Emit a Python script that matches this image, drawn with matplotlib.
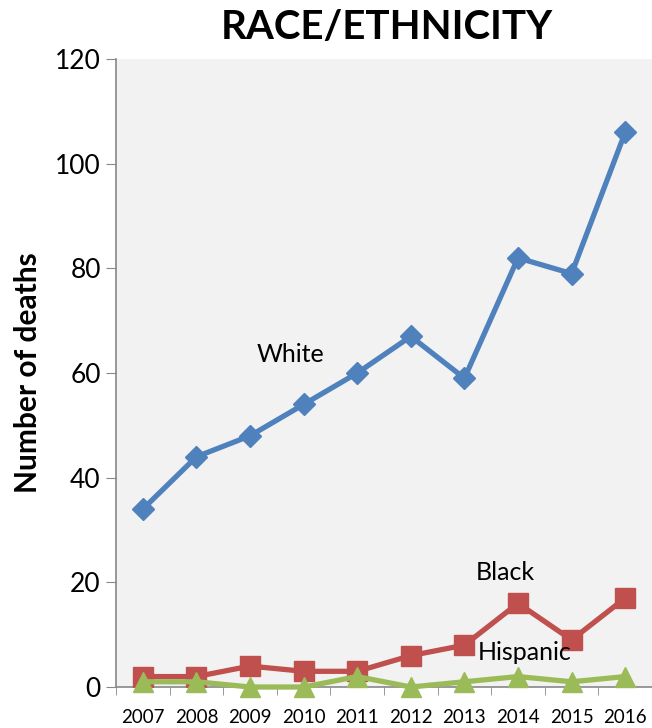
import matplotlib
matplotlib.use('Agg')
import matplotlib.pyplot as plt
from matplotlib.ticker import FixedLocator

years = ['2007', '2008', '2009', '2010', '2011', '2012', '2013', '2014', '2015', '2016']
white = [34, 44, 48, 54, 60, 67, 59, 82, 79, 106]
black = [2, 2, 4, 3, 3, 6, 8, 16, 9, 17]
hispanic = [1, 1, 0, 0, 2, 0, 1, 2, 1, 2]

plt.rcParams['font.family'] = ['Lato', 'DejaVu Sans']

fig = plt.figure(figsize=(6.52, 7.28), dpi=100)
ax = fig.add_axes([0.178, 0.0563, 0.822, 0.8626])
ax.set_facecolor('#F2F2F2')

x = list(range(len(years)))
ax.plot(x, white, color='#4F81BD', lw=3.8, marker='D', ms=11, zorder=3)
ax.plot(x, black, color='#C0504D', lw=3.8, marker='s', ms=14, zorder=3)
ax.plot(x, hispanic, color='#9BBB59', lw=3.8, marker='^', ms=15, zorder=4, clip_on=False)

ax.set_xlim(-0.5, 9.5)
ax.set_ylim(0, 120)
ax.set_yticks(range(0, 121, 20))
ax.set_xticks(x)
ax.set_xticklabels(years, fontsize=13.5)
ax.xaxis.set_minor_locator(FixedLocator([i - 0.5 for i in range(11)]))
ax.tick_params(axis='x', which='major', length=0, pad=16)
ax.tick_params(axis='x', which='minor', length=6, color='#888888', direction='out')
ax.tick_params(axis='y', labelsize=19, length=7, color='#888888', pad=4)

for s in ['top', 'right']:
    ax.spines[s].set_visible(False)
for s in ['left', 'bottom']:
    ax.spines[s].set_color('#888888')
    ax.spines[s].set_linewidth(1.2)

ax.set_ylabel('Number of deaths', fontsize=21.5, fontweight='bold', labelpad=9)
fig.text(0.593, 0.962, 'RACE/ETHNICITY', ha='center', va='center',
         fontsize=29, fontweight='bold')

ax.text(2.75, 63.5, 'White', fontsize=18, ha='center', va='center')
ax.text(6.77, 21.8, 'Black', fontsize=18, ha='center', va='center')
ax.text(7.13, 6.5, 'Hispanic', fontsize=18, ha='center', va='center')

fig.savefig('out.png', dpi=100)
